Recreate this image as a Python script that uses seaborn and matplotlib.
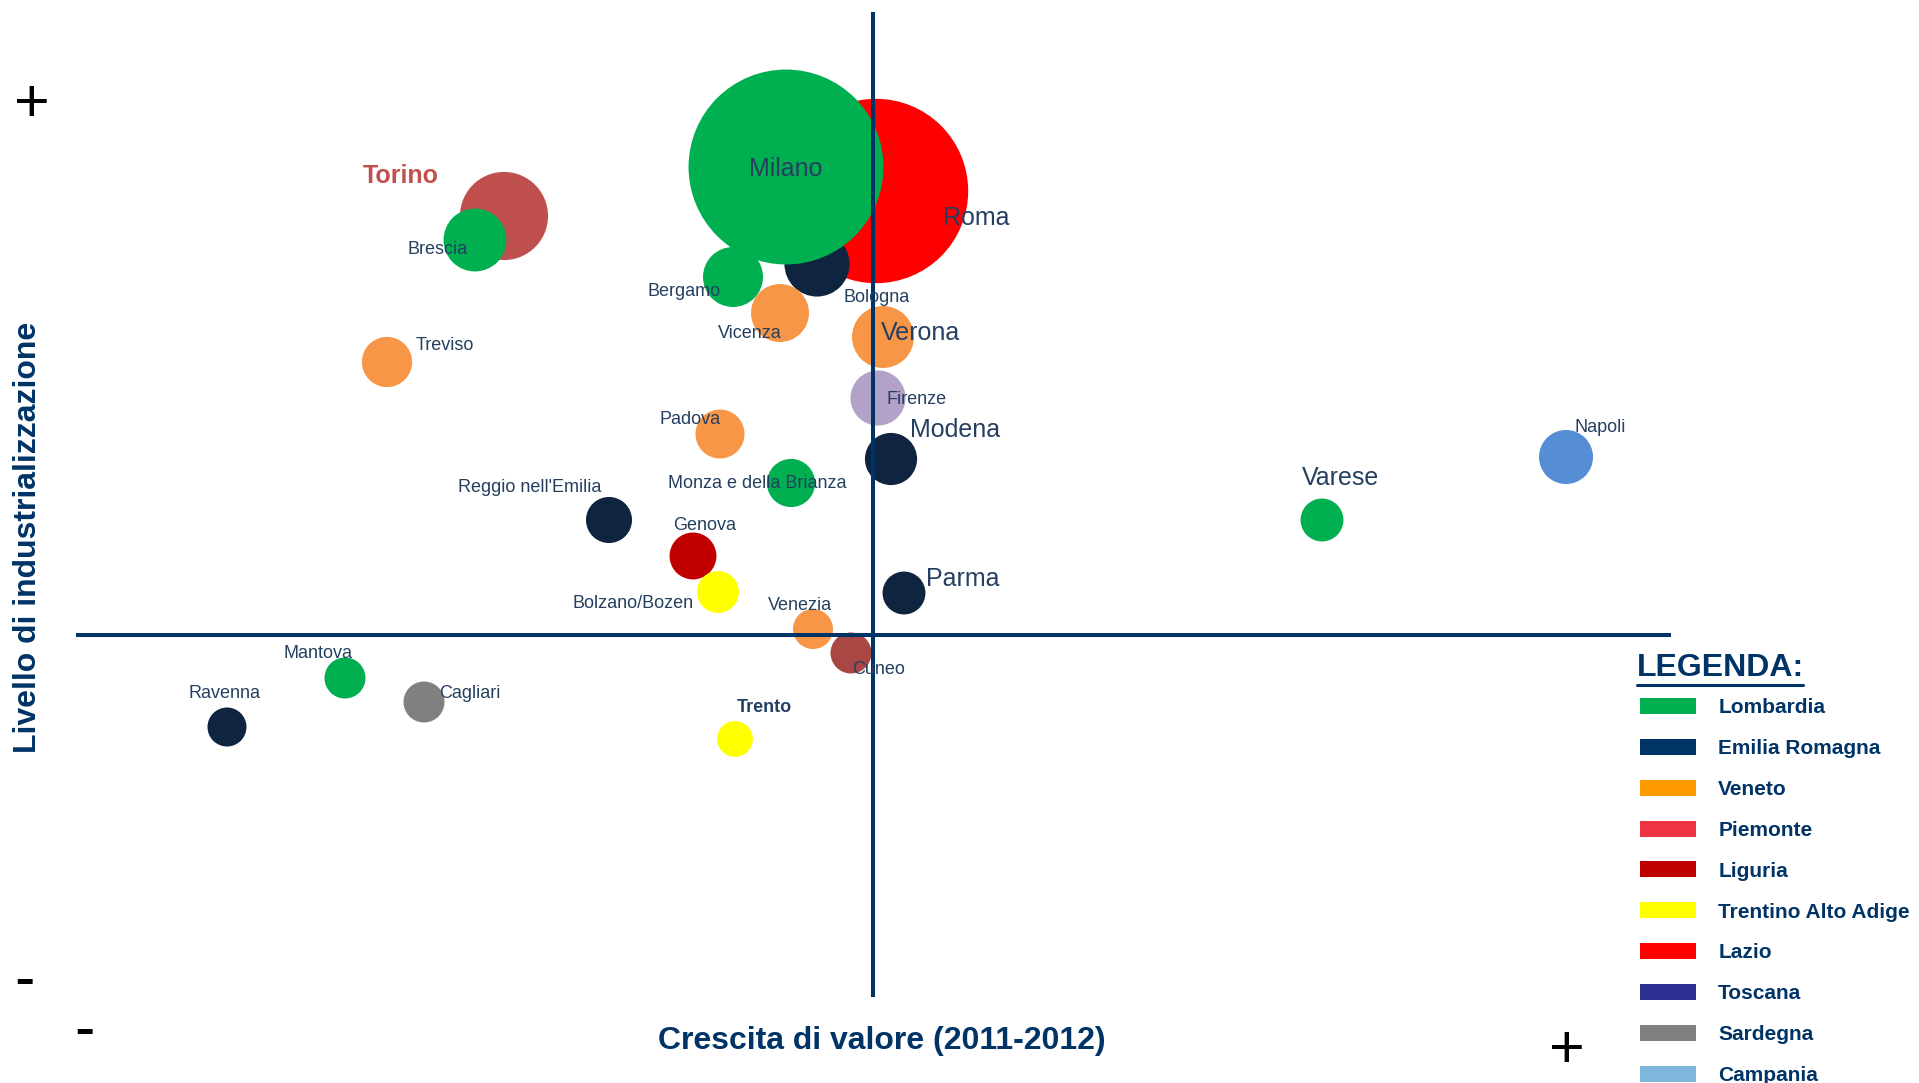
import pandas as pd
import matplotlib
matplotlib.use("Agg")
import matplotlib.pyplot as plt
from matplotlib.patches import Patch
from matplotlib.lines import Line2D
import seaborn as sns

# data (x = crescita di valore, y = livello di industrializzazione)
citta = ['Roma', 'Bologna', 'Milano', 'Bergamo', 'Vicenza', 'Torino', 'Brescia', 'Verona',
         'Treviso', 'Firenze', 'Padova', 'Modena', 'Monza e della Brianza', 'Napoli', 'Varese',
         "Reggio nell'Emilia", 'Genova', 'Bolzano/Bozen', 'Parma', 'Venezia', 'Cuneo',
         'Mantova', 'Cagliari', 'Ravenna', 'Trento']
regione = ['Lazio', 'Emilia Romagna', 'Lombardia', 'Lombardia', 'Veneto', 'Piemonte', 'Lombardia',
           'Veneto', 'Veneto', 'Toscana', 'Veneto', 'Emilia Romagna', 'Lombardia', 'Campania',
           'Lombardia', 'Emilia Romagna', 'Liguria', 'Trentino Alto Adige', 'Emilia Romagna',
           'Veneto', 'Piemonte', 'Lombardia', 'Sardegna', 'Emilia Romagna', 'Trentino Alto Adige']
crescita = [0.3, -5.6, -8.7, -14.0, -9.3, -36.9, -39.8, 1.0,
            -48.6, 0.5, -15.3, 1.8, -8.2, 69.3, 44.9,
            -26.4, -18.0, -15.5, 3.1, -6.0, -2.2,
            -52.8, -44.9, -64.6, -13.8]
industrializzazione = [44.4, 37.1, 46.8, 35.8, 32.2, 41.9, 39.5, 29.8,
                       27.3, 23.7, 20.1, 17.6, 15.2, 17.8, 11.5,
                       11.5, 7.9, 4.3, 4.2, 0.6, -1.8,
                       -4.3, -6.7, -9.2, -10.4]
dimensione = [85.0, 10.6, 95.0, 9.0, 8.4, 19.4, 9.9, 9.6,
              6.3, 7.6, 6.0, 6.8, 5.8, 7.3, 4.6,
              5.3, 5.5, 4.4, 4.6, 4.0, 4.2,
              4.2, 4.2, 3.8, 3.2]

legenda = ['Lombardia', 'Emilia Romagna', 'Veneto', 'Piemonte', 'Liguria',
           'Trentino Alto Adige', 'Lazio', 'Toscana', 'Sardegna', 'Campania']
legenda_colori = ['#00B050', '#003366', '#FF9900', '#EE3344', '#C00000',
                  '#FFFF00', '#FF0000', '#2E3192', '#808080', '#7EB6DC']

bubble_colori = {
    'Roma': '#FF0000', 'Milano': '#00B050', 'Bergamo': '#00B050', 'Brescia': '#00B050',
    'Monza e della Brianza': '#00B050', 'Varese': '#00B050', 'Mantova': '#00B050',
    'Bologna': '#0F243E', 'Modena': '#0F243E', 'Parma': '#0F243E',
    "Reggio nell'Emilia": '#0F243E', 'Ravenna': '#0F243E',
    'Vicenza': '#F79646', 'Verona': '#F79646', 'Treviso': '#F79646', 'Padova': '#F79646',
    'Venezia': '#F79646', 'Torino': '#C0504D', 'Cuneo': '#AA4643', 'Firenze': '#B3A2C7',
    'Napoli': '#558ED5', 'Genova': '#C00000', 'Bolzano/Bozen': '#FFFF00',
    'Trento': '#FFFF00', 'Cagliari': '#808080',
}

# label offsets in pixels, font size, bold
etichette = {
    'Milano': (0, -2, 18, False), 'Roma': (100, -27, 18, False),
    'Torino': (-103, 40, 18, True), 'Brescia': (-37, -9, 13, False),
    'Bologna': (60, -33, 13, False), 'Bergamo': (-49, -14, 13, False),
    'Vicenza': (-30, -20, 13, False), 'Verona': (38, 4, 18, False),
    'Treviso': (58, 16, 13, False), 'Firenze': (39, -1, 13, False),
    'Padova': (-30, 15, 13, False), 'Modena': (64, 29, 18, False),
    'Monza e della Brianza': (-34, -1, 13, False), 'Napoli': (34, 30, 13, False),
    'Varese': (19, 42, 18, False), "Reggio nell'Emilia": (-79, 32, 13, False),
    'Genova': (12, 30, 13, False), 'Bolzano/Bozen': (-85, -11, 13, False),
    'Parma': (59, 14, 18, False), 'Venezia': (-13, 24, 13, False),
    'Cuneo': (28, -16, 13, False), 'Mantova': (-27, 25, 13, False),
    'Cagliari': (46, 8, 13, False), 'Ravenna': (-3, 33, 13, False),
    'Trento': (29, 32, 13, True),
}

df = pd.DataFrame({'citta': citta, 'regione': regione, 'crescita': crescita,
                   'industrializzazione': industrializzazione, 'dimensione': dimensione})

sns.set_theme(style='white')
plt.rcParams['font.family'] = ['Liberation Sans', 'DejaVu Sans']

navy = '#003366'
testo = '#243F60'

fig = plt.figure(figsize=(19.19, 10.83), dpi=100)
ax = fig.add_axes([0, 0, 1, 1])

sns.scatterplot(data=df, x='crescita', y='industrializzazione', hue='citta',
                palette=bubble_colori, s=df['dimensione'] * 207.36,
                linewidth=0, edgecolor='none', alpha=1, legend=False, ax=ax, zorder=2)

ax.set_xlim(-87.3, 104.6)
ax.set_ylim(-44.8, 63.5)
ax.axis('off')

# quadrant lines
ax.plot([0, 0], [62.3, -36.2], color=navy, lw=2.9, zorder=3, solid_capstyle='butt')
ax.plot([-79.7, 79.8], [0, 0], color=navy, lw=2.9, zorder=3, solid_capstyle='butt')

for _, r in df.iterrows():
    dx, dy, fs, bold = etichette[r['citta']]
    col = '#C0504D' if r['citta'] == 'Torino' else testo
    ax.annotate(r['citta'], (r['crescita'], r['industrializzazione']), xytext=(dx, dy),
                textcoords='offset pixels', ha='center', va='center', fontsize=fs,
                fontweight='bold' if bold else 'normal', color=col, zorder=4)

# axis titles
fig.text(882 / 1919, 1 - 1041 / 1083, 'Crescita di valore (2011-2012)', ha='center', va='center',
         fontsize=23, fontweight='bold', color=navy)
fig.text(28 / 1919, 1 - 537 / 1083, 'Livello di industrializzazione', ha='center', va='center',
         rotation=90, fontsize=23, fontweight='bold', color=navy)

# plus / minus markers
for s, px, py in [('+', 32, 106), ('-', 24, 982), ('-', 84, 1033), ('+', 1567, 1052)]:
    fig.text(px / 1919, 1 - py / 1083, s, ha='center', va='center', fontsize=44, color='black')

# legend
fig.text(1637 / 1919, 1 - 668 / 1083, 'LEGENDA:', ha='left', va='center',
         fontsize=23, fontweight='bold', color=navy)
fig.add_artist(Line2D([1637 / 1919, 1803 / 1919], [1 - 685 / 1083, 1 - 685 / 1083],
                      color=navy, lw=2.2, transform=fig.transFigure))
handles = [Patch(facecolor=c, edgecolor='none', label=l) for l, c in zip(legenda, legenda_colori)]
fig.legend(handles=handles, loc='upper left', bbox_to_anchor=(1640 / 1919, 1 - 698 / 1083),
           frameon=False, borderpad=0, borderaxespad=0, handlelength=2.7, handleheight=0.8,
           handletextpad=1.05, labelspacing=1.04, labelcolor=navy,
           prop={'family': 'Liberation Sans', 'weight': 'bold', 'size': 15})

fig.savefig('out.png', dpi=100, facecolor='white')
